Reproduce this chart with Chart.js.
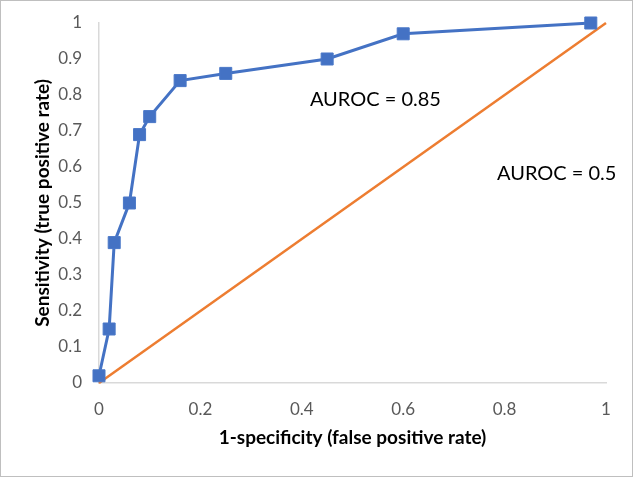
<!DOCTYPE html>
<html>
<head>
<meta charset="utf-8">
<script src="https://cdn.jsdelivr.net/npm/chart.js@4"></script>
<style>
  body { margin: 0; background: #fff; }
  #wrap { width: 633px; height: 477px; box-sizing: border-box; border: 1px solid #bfbfbf; }
</style>
</head>
<body>
<div id="wrap"><canvas id="canvas" width="631" height="475"></canvas></div>
<script>
var fpr = [0, 0.02, 0.03, 0.06, 0.08, 0.10, 0.16, 0.25, 0.45, 0.60, 0.97];
var tpr = [0.02, 0.15, 0.39, 0.50, 0.69, 0.74, 0.84, 0.86, 0.90, 0.97, 1.00];
var chanceX = [0, 1];
var chanceY = [0, 1];
var notes = [
    { text: 'AUROC = 0.85', x: 0.416, y: 0.786 },
    { text: 'AUROC = 0.5', x: 0.785, y: 0.583 }
];

function pairs(xs, ys) {
    return xs.map(function (x, i) { return { x: x, y: ys[i] }; });
}

var notesPlugin = {
    id: 'notes',
    afterDatasetsDraw: function (chart) {
        var ctx = chart.ctx;
        var sx = chart.scales.x, sy = chart.scales.y;
        ctx.save();
        ctx.font = '20px Lato';
        ctx.fillStyle = '#000';
        ctx.textBaseline = 'middle';
        ctx.textAlign = 'left';
        notes.forEach(function (n) {
            ctx.fillText(n.text, sx.getPixelForValue(n.x), sy.getPixelForValue(n.y));
        });
        ctx.restore();
    }
};

var context = document.getElementById('canvas').getContext('2d');
var rocChart = new Chart(context, {
    type: 'scatter',
    data: {
        datasets: [
            {
                label: 'ROC',
                data: pairs(fpr, tpr),
                showLine: true,
                borderColor: '#4472C4',
                backgroundColor: '#4472C4',
                borderWidth: 3,
                pointStyle: 'rect',
                pointRadius: 8.5,
                pointHoverRadius: 8.5,
                pointBorderWidth: 1,
                pointBorderColor: '#4a78c8',
                lineTension: 0,
                clip: false
            },
            {
                label: 'Chance',
                data: pairs(chanceX, chanceY),
                showLine: true,
                borderColor: '#ED7D31',
                borderWidth: 2.5,
                pointRadius: 0,
                lineTension: 0,
                clip: false
            }
        ]
    },
    options: {
        responsive: false,
        animation: false,
        layout: { padding: { left: 26, right: 26, top: 22, bottom: 23 } },
        plugins: { legend: { display: false }, tooltip: { enabled: false } },
        scales: {
            x: {
                type: 'linear', min: 0, max: 1,
                grid: { display: false, drawTicks: false },
                border: { display: true, color: '#d9d9d9', width: 1.5 },
                ticks: {
                    stepSize: 0.2, padding: 16, color: '#595959',
                    font: { family: 'Lato', size: 17 },
                    callback: function (v) { return +v.toFixed(1); }
                },
                title: {
                    display: true, text: '1-specificity (false positive rate)',
                    color: '#000', font: { family: 'Lato', size: 19, weight: 'bold' }
                },
                afterFit: function (s) { s.height = 70; }
            },
            y: {
                type: 'linear', min: 0, max: 1,
                grid: { display: false, drawTicks: false },
                border: { display: true, color: '#d9d9d9', width: 1.5 },
                ticks: {
                    stepSize: 0.1, padding: 17, color: '#595959',
                    font: { family: 'Lato', size: 17 },
                    callback: function (v) { return +v.toFixed(1); }
                },
                title: {
                    display: true, text: 'Sensitivity (true positive rate)',
                    color: '#000', font: { family: 'Lato', size: 19, weight: 'bold' }
                },
                afterFit: function (s) { s.width = 72; s.paddingTop = 0; s.paddingBottom = 0; }
            }
        }
    },
    plugins: [notesPlugin]
});
</script>
</body>
</html>
